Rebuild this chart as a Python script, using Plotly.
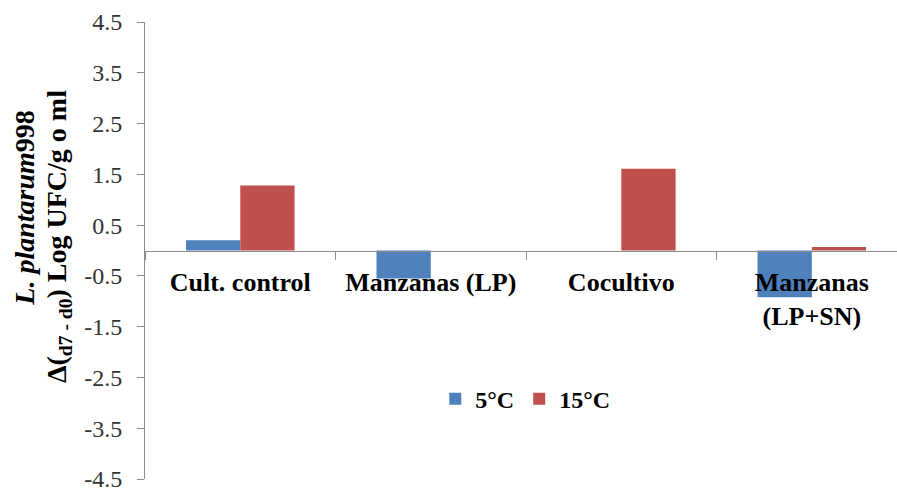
import plotly.graph_objects as go

categories = ["Cult. control", "Manzanas (LP)", "Cocultivo", "Manzanas<br>(LP+SN)"]
series_names = ["5°C", "15°C"]
values_5c = [0.20, -0.55, 0.0, -0.92]
values_15c = [1.28, 0.0, 1.61, 0.07]
y_ticks = [-4.5, -3.5, -2.5, -1.5, -0.5, 0.5, 1.5, 2.5, 3.5, 4.5]

BLUE = "#4F81BD"
RED = "#C0504D"
AXIS_GREY = "#8C8C8C"
SERIF = "Liberation Serif, Times New Roman, serif"

fig = go.Figure()
fig.add_trace(go.Bar(x=categories, y=values_5c, name=series_names[0],
                     marker=dict(color=BLUE, line=dict(width=0))))
fig.add_trace(go.Bar(x=categories, y=values_15c, name=series_names[1],
                     marker=dict(color=RED, line=dict(width=0))))

fig.update_layout(
    width=897, height=488,
    margin=dict(l=145, r=0, t=22, b=9),
    paper_bgcolor="white", plot_bgcolor="white",
    barmode="group", bargap=0.43, bargroupgap=0,
    font=dict(family=SERIF, color="#000"),
    showlegend=True,
    legend=dict(orientation="h", x=0.386, y=0.175, xanchor="left", yanchor="middle",
                font=dict(size=24, family=SERIF, color="#000", weight="bold"),
                itemwidth=30, bgcolor="rgba(0,0,0,0)"),
    xaxis=dict(
        range=[-0.5, 3.447], anchor="free", position=0.5, automargin=False,
        showline=True, linecolor=AXIS_GREY, linewidth=1,
        ticks="outside", tickson="boundaries", ticklen=8, tickcolor=AXIS_GREY,
        tickfont=dict(size=26, family=SERIF, color="#000", weight="bold"),
        ticklabelstandoff=8,
        showgrid=False, zeroline=False,
    ),
    yaxis=dict(
        range=[-4.5, 4.5], tickvals=y_ticks, ticktext=[f"{v:.1f}" for v in y_ticks],
        automargin=False,
        showline=True, linecolor=AXIS_GREY, linewidth=1,
        ticks="outside", ticklen=7, tickcolor=AXIS_GREY,
        tickfont=dict(size=24, family=SERIF, color="#333"),
        ticklabelstandoff=10, ticklabeloverflow="allow",
        showgrid=False, zeroline=False,
    ),
)

# two-line rotated y-axis title
fig.add_annotation(xref="paper", yref="paper", x=-0.16, y=0.593, xanchor="center", yanchor="middle",
                   text="<b><i>L. plantarum</i>998</b>", textangle=-90, showarrow=False,
                   font=dict(size=28, family=SERIF, color="#000"))
fig.add_annotation(xref="paper", yref="paper", x=-0.114, y=0.53, xanchor="center", yanchor="middle",
                   text="<b>Δ(<sub>d7 - d0</sub>) Log UFC/g o ml</b>", textangle=-90, showarrow=False,
                   font=dict(size=28, family=SERIF, color="#000"))

fig.write_html("out.html")
